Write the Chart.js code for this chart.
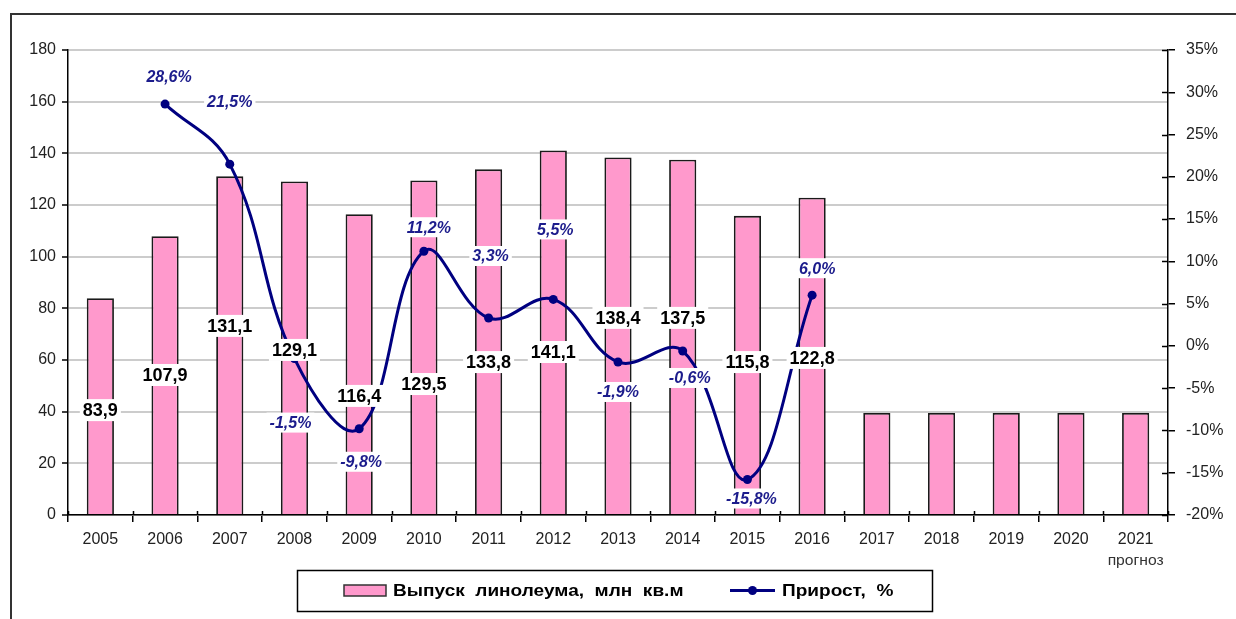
<!DOCTYPE html>
<html>
<head>
<meta charset="utf-8">
<script src="https://cdn.jsdelivr.net/npm/chart.js@4"></script>
<style>
  html, body { margin: 0; padding: 0; background: #ffffff; }
  #wrap { width: 1236px; height: 619px; position: relative; }
</style>
</head>
<body>
<div id="wrap"><canvas id="c" width="1236" height="619"></canvas></div>
<script>
// ---- data ----
const years = ['2005','2006','2007','2008','2009','2010','2011','2012','2013','2014','2015','2016','2017','2018','2019','2020','2021'];
const output = [83.9,107.9,131.1,129.1,116.4,129.5,133.8,141.1,138.4,137.5,115.8,122.8,39.5,39.5,39.5,39.5,39.5];
const growth = [null,28.6,21.5,-1.5,-9.8,11.2,3.3,5.5,-1.9,-0.6,-15.8,6.0,null,null,null,null,null];
const leftTicks = [0,20,40,60,80,100,120,140,160,180];
const rightTicks = [-20,-15,-10,-5,0,5,10,15,20,25,30,35];
const forecastNote = 'прогноз';
const barSeriesName = 'Выпуск  линолеума,  млн  кв.м';
const lineSeriesName = 'Прирост,  %';
const labelledBars = 12; // bars 2005..2016 carry value labels

// ---- label placement (style) ----
const barLabelAt = [40.6,54.2,73.2,63.9,46.1,50.7,59.2,63.1,76.3,76.3,59.2,60.8];
const growthLabelShift = [null,[4,-28],[0,-63],[-4,64],[2,33],[5,-24],[2,-62],[2,-70],[0,30],[7,27],[4,19],[5,-27]];

const FONT = '"Liberation Sans", Arial, sans-serif';
const PINK = '#ff99cc';
const NAVY = '#000080';
const fmt = v => v.toFixed(1).replace('.', ',');

function stretchText(ctx, text, x, y, sx) {
  ctx.save();
  ctx.translate(x, y);
  ctx.scale(sx, 1);
  ctx.fillText(text, 0, 0);
  ctx.restore();
}

const labelsPlugin = {
  id: 'labelsPlugin',
  afterDatasetsDraw(chart) {
    const ctx = chart.ctx;
    const xs = chart.scales.x, ys = chart.scales.y, y1 = chart.scales.y1;
    ctx.save();
    ctx.textAlign = 'center';
    ctx.textBaseline = 'middle';
    // bar value labels
    ctx.font = 'bold 18px ' + FONT;
    for (let i = 0; i < labelledBars; i++) {
      const t = fmt(output[i]);
      const px = xs.getPixelForValue(i);
      const py = ys.getPixelForValue(barLabelAt[i]);
      const w = ctx.measureText(t).width + 6;
      ctx.fillStyle = '#ffffff';
      ctx.fillRect(px - w / 2, py - 11, w, 22);
      ctx.fillStyle = '#000000';
      ctx.fillText(t, px, py + 1);
    }
    // growth labels
    ctx.font = 'italic bold 16px ' + FONT;
    for (let i = 0; i < growth.length; i++) {
      if (growth[i] === null || !growthLabelShift[i]) continue;
      const t = fmt(growth[i]) + '%';
      const px = xs.getPixelForValue(i) + growthLabelShift[i][0];
      const py = y1.getPixelForValue(growth[i]) + growthLabelShift[i][1];
      const w = ctx.measureText(t).width + 6;
      ctx.fillStyle = '#ffffff';
      ctx.fillRect(px - w / 2, py - 10, w, 20);
      ctx.fillStyle = '#1c1c8c';
      ctx.fillText(t, px, py + 1);
    }
    ctx.restore();
  },
  afterDraw(chart) {
    const ctx = chart.ctx;
    const ca = chart.chartArea;
    const xs = chart.scales.x, y1 = chart.scales.y1;
    const barDs = chart.data.datasets.find(d => d.type === 'bar');
    const lineDs = chart.data.datasets.find(d => d.type === 'line');
    ctx.save();
    // outer frame
    ctx.strokeStyle = '#333333';
    ctx.lineWidth = 2;
    ctx.beginPath();
    ctx.moveTo(11, 619);
    ctx.lineTo(11, 14);
    ctx.lineTo(1236, 14);
    ctx.stroke();
    // right axis inner tick halves
    ctx.strokeStyle = '#000000';
    ctx.lineWidth = 1.5;
    ctx.beginPath();
    for (const v of rightTicks) {
      const py = Math.round(y1.getPixelForValue(v)) + 0.5;
      ctx.moveTo(ca.right - 6, py);
      ctx.lineTo(ca.right, py);
    }
    // x axis ticks slightly above axis
    for (let i = 0; i <= years.length; i++) {
      const px = Math.round(ca.left + (ca.right - ca.left) * i / years.length) + 0.5;
      ctx.moveTo(px, ca.bottom - 4);
      ctx.lineTo(px, ca.bottom);
    }
    ctx.stroke();
    // forecast note
    ctx.fillStyle = '#333333';
    ctx.font = '14px ' + FONT;
    ctx.textAlign = 'center';
    ctx.textBaseline = 'middle';
    stretchText(ctx, forecastNote, xs.getPixelForValue(years.length - 1), 561, 1.12);
    // legend
    const lx = 297, ly = 570, lw = 635, lh = 41;
    ctx.fillStyle = '#ffffff';
    ctx.fillRect(lx, ly, lw, lh);
    ctx.strokeStyle = '#000000';
    ctx.lineWidth = 1.5;
    ctx.strokeRect(lx + 0.5, ly + 0.5, lw, lh);
    const cy = ly + lh / 2;
    // bar swatch
    ctx.fillStyle = PINK;
    ctx.fillRect(344, cy - 5.5, 42, 11);
    ctx.strokeStyle = '#333333';
    ctx.lineWidth = 1.5;
    ctx.strokeRect(344, cy - 5.5, 42, 11);
    ctx.fillStyle = '#000000';
    ctx.font = 'bold 17px ' + FONT;
    ctx.textAlign = 'left';
    stretchText(ctx, barDs.label, 393, cy + 1, 1.12);
    // line swatch
    ctx.strokeStyle = NAVY;
    ctx.lineWidth = 3;
    ctx.beginPath();
    ctx.moveTo(730, cy);
    ctx.lineTo(775, cy);
    ctx.stroke();
    ctx.fillStyle = NAVY;
    ctx.beginPath();
    ctx.arc(752.5, cy, 4.5, 0, Math.PI * 2);
    ctx.fill();
    ctx.fillStyle = '#000000';
    stretchText(ctx, lineDs.label, 782, cy + 1, 1.12);
    ctx.restore();
  }
};

const tickFont = { family: FONT, size: 16 };

new Chart(document.getElementById('c'), {
  type: 'bar',
  data: {
    labels: years,
    datasets: [
      {
        type: 'line',
        label: lineSeriesName,
        data: growth,
        yAxisID: 'y1',
        borderColor: NAVY,
        backgroundColor: NAVY,
        borderWidth: 3,
        pointRadius: 4.5,
        pointBackgroundColor: NAVY,
        pointBorderWidth: 0,
        tension: 0.4,
        spanGaps: false,
        order: 0
      },
      {
        type: 'bar',
        label: barSeriesName,
        data: output,
        yAxisID: 'y',
        backgroundColor: PINK,
        borderColor: '#1a1a1a',
        borderWidth: 1.8,
        borderSkipped: 'bottom',
        barPercentage: 0.42,
        categoryPercentage: 1,
        order: 1
      }
    ]
  },
  options: {
    responsive: false,
    animation: false,
    devicePixelRatio: 1,
    layout: { padding: { top: 50, left: 0, right: 0, bottom: 0 } },
    plugins: { legend: { display: false }, tooltip: { enabled: false } },
    scales: {
      x: {
        offset: true,
        grid: { offset: true, drawOnChartArea: false, tickLength: 7, color: '#000000', lineWidth: 1.5 },
        border: { color: '#000000', width: 1.5 },
        ticks: { font: tickFont, color: '#222222', padding: 8, maxRotation: 0 },
        afterFit(s) { s.height = 104; }
      },
      y: {
        position: 'left',
        min: 0, max: 180,
        afterBuildTicks(s) { s.ticks = leftTicks.map(v => ({ value: v })); },
        grid: { color: '#cccccc', lineWidth: 2, tickLength: 6, tickColor: '#000000', tickWidth: 1.5 },
        border: { color: '#000000', width: 1.5 },
        ticks: { font: tickFont, color: '#222222', padding: 6 },
        afterFit(s) { s.width = 68; }
      },
      y1: {
        position: 'right',
        min: -20, max: 35,
        afterBuildTicks(s) { s.ticks = rightTicks.map(v => ({ value: v })); },
        grid: { drawOnChartArea: false, tickLength: 7, color: '#000000', lineWidth: 1.5 },
        border: { color: '#000000', width: 1.5 },
        ticks: { font: tickFont, color: '#222222', padding: 11, callback: v => v + '%' },
        afterFit(s) { s.width = 68; }
      }
    }
  },
  plugins: [labelsPlugin]
});
</script>
</body>
</html>
